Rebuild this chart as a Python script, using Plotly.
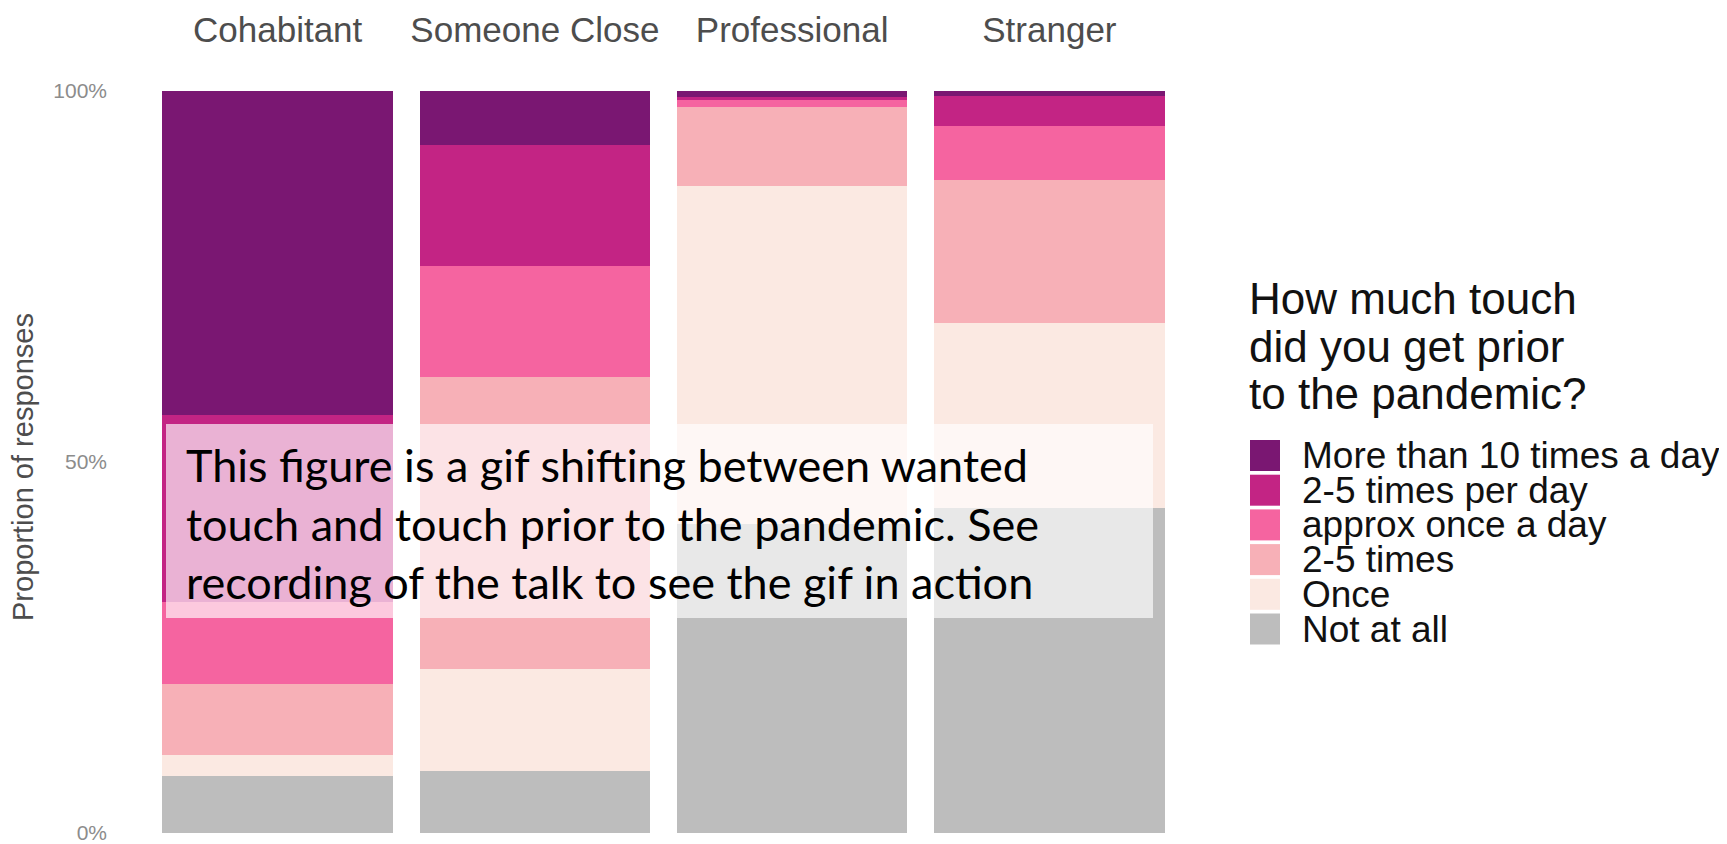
import plotly.graph_objects as go

# categories across the top and the answer levels (top of stack first)
categories = ["Cohabitant", "Someone Close", "Professional", "Stranger"]
levels = ["More than 10 times a day", "2-5 times per day", "approx once a day",
          "2-5 times", "Once", "Not at all"]
colors = ["#7a1772", "#c32484", "#f564a0", "#f7b0b7", "#fbe9e2", "#bdbdbd"]

# proportion of responses per category
more_than_10 = [0.437, 0.073, 0.008, 0.007]
per_day_2_5 = [0.252, 0.163, 0.004, 0.040]
once_a_day = [0.110, 0.149, 0.010, 0.073]
times_2_5 = [0.096, 0.394, 0.106, 0.193]
once = [0.028, 0.138, 0.455, 0.249]
not_at_all = [0.077, 0.083, 0.417, 0.438]

series = [more_than_10, per_day_2_5, once_a_day, times_2_5, once, not_at_all]

legend_title = ["How much touch", "did you get prior", "to the pandemic?"]
note = ("This figure is a gif shifting between wanted<br>"
        "touch and touch prior to the pandemic. See<br>"
        "recording of the talk to see the gif in action")

FONT = "Liberation Sans, Arial, sans-serif"
OFF = 8  # the page body has an 8px margin, so the figure is drawn 8px in
W, H = 1727 - OFF, 844 - OFF
L, R, T, B = 141, 549, 83, 11
pw, ph = W - L - R, H - T - B


# page pixel -> paper helpers for the hand-made legend and the overlay note
def px(x):
    return (x - OFF - L) / pw


def py(y):
    return (H - B - (y - OFF)) / ph


fig = go.Figure()
# plotly stacks the first trace at the bottom, so go from "Not at all" up
for name, vals, col in reversed(list(zip(levels, series, colors))):
    fig.add_trace(go.Bar(x=categories, y=vals, name=name, marker_color=col,
                         marker_line_width=0, showlegend=False))

fig.update_layout(
    barmode="stack", bargap=0.104,
    width=W, height=H,
    margin=dict(l=L, r=R, t=T, b=B, autoexpand=False),
    plot_bgcolor="white", paper_bgcolor="white",
    font=dict(family=FONT),
    xaxis=dict(side="top", showgrid=False, showline=False, zeroline=False,
               automargin=False,
               tickfont=dict(size=35, color="#4d4d4d"), ticklabelstandoff=41),
    yaxis=dict(range=[0, 1], tickvals=[0, 0.5, 1], tickformat=".0%",
               showgrid=False, zeroline=False, showline=False,
               automargin=False, ticklabeloverflow="allow",
               tickfont=dict(size=21, color="#8c8c8c"), ticklabelstandoff=41),
)

# y axis title
fig.add_annotation(text="Proportion of responses", xref="paper", yref="paper",
                   x=px(23), y=py(467), textangle=-90, showarrow=False,
                   xanchor="center", yanchor="middle",
                   font=dict(size=29, color="#4d4d4d"))

# legend title, one line per annotation to keep the tight spacing
for i, line in enumerate(legend_title):
    fig.add_annotation(text=line, xref="paper", yref="paper",
                       x=px(1247), y=py(315 + i * 47.5 + 10), showarrow=False,
                       xanchor="left", yanchor="bottom",
                       font=dict(size=44, color="#111111"))

# legend keys
for i, (name, col) in enumerate(zip(levels, colors)):
    top = 440 + i * 34.7
    fig.add_shape(type="rect", xref="paper", yref="paper",
                  x0=px(1250), x1=px(1280), y0=py(top + 31), y1=py(top),
                  fillcolor=col, line_width=0)
    fig.add_annotation(text=name, xref="paper", yref="paper",
                       x=px(1300), y=py(top + 15.5), showarrow=False,
                       xanchor="left", yanchor="middle",
                       font=dict(size=37, color="#111111"))

# semi transparent note box over the bars
fig.add_shape(type="rect", xref="paper", yref="paper", layer="above",
              x0=px(166), x1=px(1153), y0=py(618), y1=py(424),
              fillcolor="rgba(255,255,255,0.65)", line_width=0)
fig.add_annotation(text=note, xref="paper", yref="paper",
                   x=px(184), y=py(523), showarrow=False, align="left",
                   xanchor="left", yanchor="middle",
                   font=dict(size=45, color="black", family="Lato, Liberation Sans, sans-serif"))

fig.write_html("out.html")
